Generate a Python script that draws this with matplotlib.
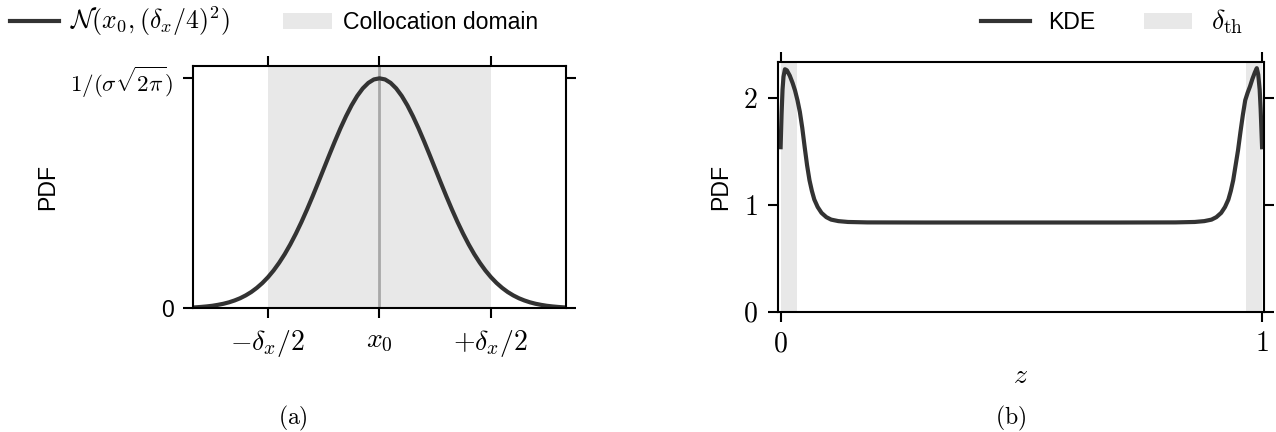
import numpy as np
import matplotlib
matplotlib.use('Agg')
import matplotlib.pyplot as plt
from matplotlib.lines import Line2D
from matplotlib.patches import Patch

# --- data ----------------------------------------------------------------
# (a) normal pdf, x0 = 0, delta_x = 4 -> sigma = 1
gx = [-3.3, -3.2, -3.1, -3.0, -2.9, -2.8, -2.7, -2.6, -2.5, -2.4, -2.3, -2.2,
      -2.1, -2.0, -1.9, -1.8, -1.7, -1.6, -1.5, -1.4, -1.3, -1.2, -1.1, -1.0,
      -0.9, -0.8, -0.7, -0.6, -0.5, -0.4, -0.3, -0.2, -0.1, 0.0,
      0.1, 0.2, 0.3, 0.4, 0.5, 0.6, 0.7, 0.8, 0.9, 1.0, 1.1, 1.2, 1.3, 1.4,
      1.5, 1.6, 1.7, 1.8, 1.9, 2.0, 2.1, 2.2, 2.3, 2.4, 2.5, 2.6, 2.7, 2.8,
      2.9, 3.0, 3.1, 3.2, 3.3]
gy = [0.0017, 0.0024, 0.0033, 0.0044, 0.0060, 0.0079, 0.0104, 0.0136, 0.0175,
      0.0224, 0.0283, 0.0355, 0.0440, 0.0540, 0.0656, 0.0790, 0.0940, 0.1109,
      0.1295, 0.1497, 0.1714, 0.1942, 0.2179, 0.2420, 0.2661, 0.2897, 0.3123,
      0.3332, 0.3521, 0.3683, 0.3814, 0.3910, 0.3970, 0.3989,
      0.3970, 0.3910, 0.3814, 0.3683, 0.3521, 0.3332, 0.3123, 0.2897, 0.2661,
      0.2420, 0.2179, 0.1942, 0.1714, 0.1497, 0.1295, 0.1109, 0.0940, 0.0790,
      0.0656, 0.0540, 0.0440, 0.0355, 0.0283, 0.0224, 0.0175, 0.0136, 0.0104,
      0.0079, 0.0060, 0.0044, 0.0033, 0.0024, 0.0017]
x0 = 0.0
dx = 4.0
peak = 0.3989

# (b) KDE of z
kz = [0.0, 0.002, 0.004, 0.006, 0.009, 0.013, 0.019, 0.025, 0.030, 0.035,
      0.040, 0.045, 0.050, 0.055, 0.060, 0.065, 0.070, 0.077, 0.085, 0.095,
      0.105, 0.120, 0.140, 0.180, 0.300, 0.500, 0.700, 0.820, 0.860, 0.880,
      0.895, 0.905, 0.915, 0.923, 0.930, 0.935, 0.940, 0.945, 0.950, 0.955,
      0.960, 0.965, 0.970, 0.975, 0.980, 0.985, 0.989, 0.992, 0.995, 0.997, 1.0]
kp = [1.54, 1.85, 2.08, 2.20, 2.27, 2.26, 2.21, 2.14, 2.07, 1.98,
      1.87, 1.72, 1.54, 1.37, 1.23, 1.13, 1.05, 0.98, 0.925, 0.885,
      0.862, 0.848, 0.840, 0.836, 0.835, 0.835, 0.835, 0.836, 0.840, 0.848,
      0.862, 0.885, 0.925, 0.98, 1.05, 1.13, 1.23, 1.37, 1.51, 1.68,
      1.84, 1.98, 2.05, 2.11, 2.18, 2.24, 2.28, 2.22, 2.08, 1.90, 1.54]
d_th = 0.034

curve_col = '#333333'
shade_col = '#e8e8e8'
mfs = 10   # size of the math (latex-like) texts

plt.rcParams['font.family'] = ['Liberation Sans', 'DejaVu Sans']
plt.rcParams['font.size'] = 8.3
plt.rcParams['mathtext.fontset'] = 'cm'
plt.rcParams['axes.linewidth'] = 0.75
for a in ('xtick', 'ytick'):
    plt.rcParams[a + '.major.size'] = 3.6
    plt.rcParams[a + '.major.width'] = 0.75

fig = plt.figure(figsize=(6.38, 2.16), dpi=200)

def ticks_all(ax):
    ax.tick_params(direction='out', top=True, right=True,
                   labeltop=False, labelright=False)

# ---- (a)
ax1 = fig.add_axes([0.1515, 0.2863, 0.2918, 0.5616])
ax1.axvspan(x0 - dx/2, x0 + dx/2, color=shade_col, lw=0, zorder=0)
ax1.axvline(x0, color='#a8a8a8', lw=1.0, zorder=1)
ax1.plot(gx, gy, color=curve_col, lw=1.5, zorder=2)
ax1.set_xlim(-3.34, 3.34)
ax1.set_ylim(0, 0.4208)
ax1.set_xticks([x0 - dx/2, x0, x0 + dx/2])
ax1.set_xticklabels([r'$-\delta_x/2$', r'$x_0$', r'$+\delta_x/2$'], fontsize=mfs)
ax1.set_yticks([0, peak])
ax1.set_yticklabels(['0', r'$1/(\sigma\sqrt{2\pi})$'])
ax1.get_yticklabels()[1].set_fontsize(8.3)
ax1.set_ylabel('PDF')
ticks_all(ax1)

h1 = [Line2D([], [], color=curve_col, lw=1.5),
      Patch(facecolor=shade_col, edgecolor='none')]
leg1 = fig.legend(h1, [r'$\mathcal{N}(x_0, (\delta_x/4)^2)$', 'Collocation domain'],
                  loc='center', bbox_to_anchor=(0.2150, 0.951), ncol=2,
                  frameon=False, handlelength=2.1, handletextpad=0.5,
                  columnspacing=2.3)
leg1.get_texts()[0].set_fontsize(9.3)

# ---- (b)
ax2 = fig.add_axes([0.6095, 0.2785, 0.3811, 0.5773])
ax2.axvspan(0, d_th, color=shade_col, lw=0, zorder=0)
ax2.axvspan(1 - d_th, 1, color=shade_col, lw=0, zorder=0)
ax2.plot(kz, kp, color=curve_col, lw=1.5, zorder=2)
ax2.set_xlim(-0.006, 1.004)
ax2.set_ylim(0, 2.335)
ax2.set_xticks([0, 1])
ax2.set_xticklabels(['$0$', '$1$'], fontsize=mfs)
ax2.set_yticks([0, 1, 2])
ax2.set_yticklabels(['$0$', '$1$', '$2$'], fontsize=mfs)
ax2.set_xlabel('$z$', fontsize=mfs, labelpad=2)
ax2.set_ylabel('PDF')
ticks_all(ax2)

h2 = [Line2D([], [], color=curve_col, lw=1.5),
      Patch(facecolor=shade_col, edgecolor='none')]
leg2 = fig.legend(h2, ['KDE', r'$\delta_{\mathrm{th}}$'],
                  loc='center', bbox_to_anchor=(0.8715, 0.951), ncol=2,
                  frameon=False, handlelength=2.1, columnspacing=2.1)
leg2.get_texts()[1].set_fontsize(mfs)

fig.text(0.2296, 0.032, r'$\mathrm{(a)}$', ha='center', va='center', fontsize=8.5)
fig.text(0.7923, 0.032, r'$\mathrm{(b)}$', ha='center', va='center', fontsize=8.5)

fig.savefig('out.png', dpi=200)
